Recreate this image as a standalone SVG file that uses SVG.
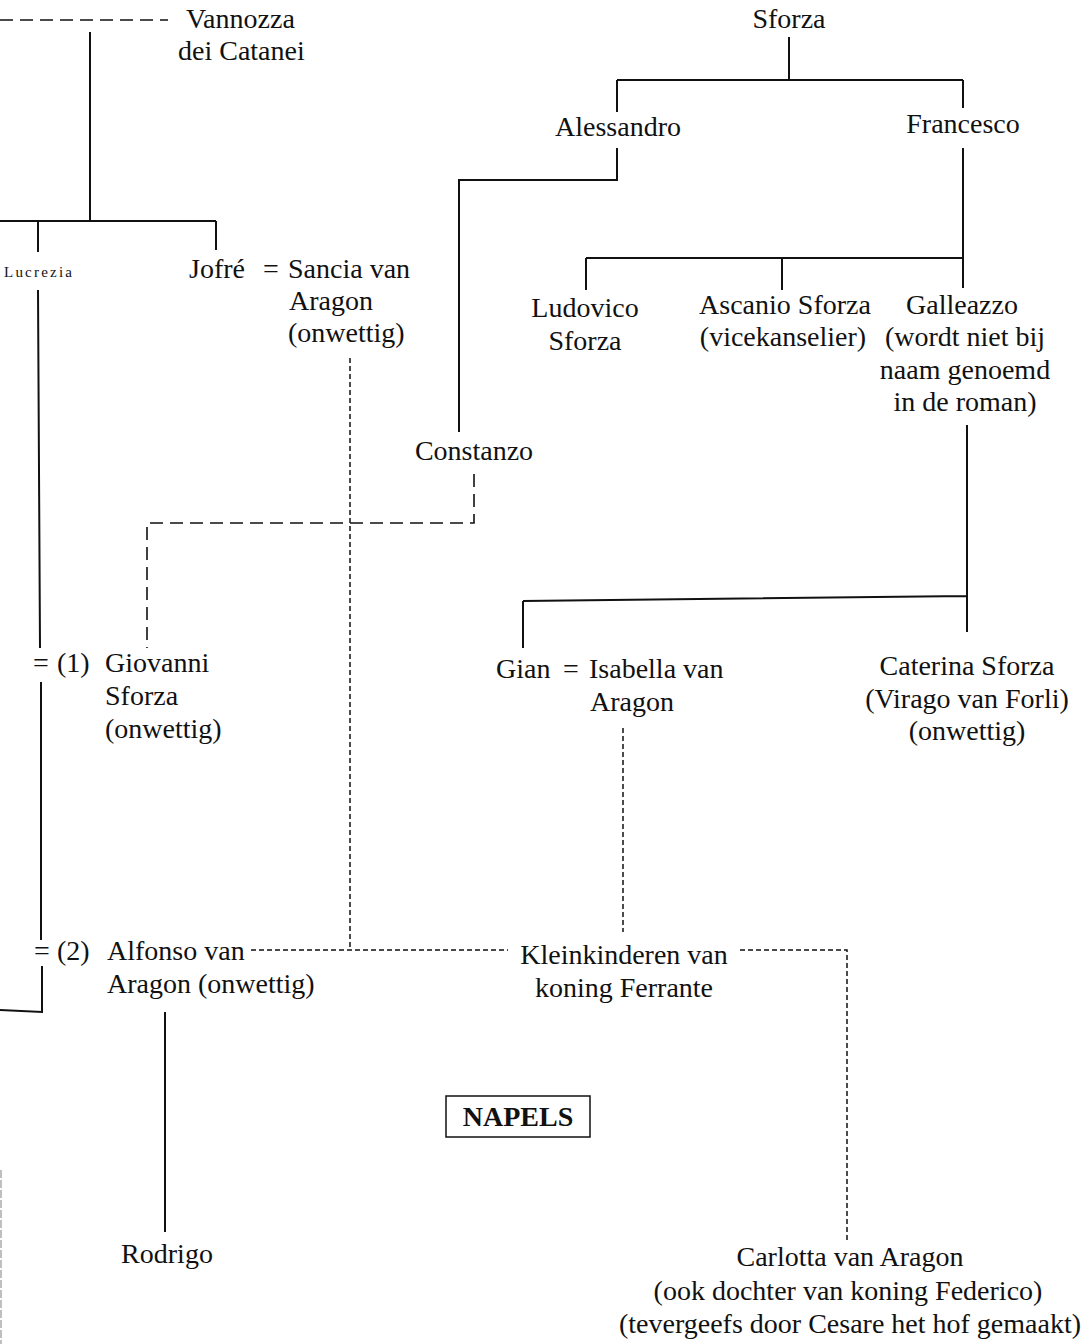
<svg xmlns="http://www.w3.org/2000/svg" width="1087" height="1344" viewBox="0 0 1087 1344">
<style>
text { font-family: "Liberation Serif", "Times New Roman", serif; font-size: 28px; fill: #111; }
.c { text-anchor: middle; }
.small { font-size: 15px; }
.bold { font-weight: bold; }
.solid { stroke: #111; stroke-width: 2; fill: none; }
.dash { stroke: #111; stroke-width: 1.6; fill: none; stroke-dasharray: 13 7; }
.dot { stroke: #111; stroke-width: 1.5; fill: none; stroke-dasharray: 5 3; }
</style>
<rect width="1087" height="1344" fill="#fff"/>
<g id="connectors">
  <path class="dash" d="M0 20 H168"/>
  <path class="solid" d="M90 32 V221 M0 221 H216 M38 221 V252 M216 221 V250"/>
  <path class="solid" d="M38 290 L40 648 M41 682 V940 M42 966 V1012 L0 1010"/>
  <path class="solid" d="M789 37 V80 M617 80 H963 M617 80 V112 M963 80 V108"/>
  <path class="solid" d="M617 148 V180 H459 V432"/>
  <path class="solid" d="M963 148 V288 M586 258 H963 M586 258 V290 M782 258 V290"/>
  <path class="solid" d="M967 425 V632 M523 601 L967 596 M523 601 V648"/>
  <path class="solid" d="M165 1012 V1232"/>
  <path class="dash" d="M474 474 V523 H147 V648"/>
  <path class="dot" d="M350 358 V950 M251 950 H508"/>
  <path class="dot" d="M623 728 V932"/>
  <path class="dot" d="M740 950 H847 V1240"/>
  <path d="M1 1170 V1344" stroke="#aaa" stroke-width="1.5" stroke-dasharray="8 2"/>
</g>
<g id="vannozza"><text x="186" y="28">Vannozza</text><text x="178" y="60">dei Catanei</text></g>
<g id="lucrezia"><text class="small" x="4" y="277" textLength="68" lengthAdjust="spacing">Lucrezia</text></g>
<g id="jofre"><text x="189" y="278">Jofré</text><text x="263" y="278">=</text></g>
<g id="sancia"><text x="288" y="278">Sancia van</text><text x="289" y="310">Aragon</text><text x="288" y="342">(onwettig)</text></g>
<g id="sforza"><text class="c" x="789" y="28">Sforza</text></g>
<g id="alessandro"><text class="c" x="618" y="136">Alessandro</text></g>
<g id="francesco"><text class="c" x="963" y="133">Francesco</text></g>
<g id="ludovico"><text class="c" x="585" y="317">Ludovico</text><text class="c" x="585" y="350">Sforza</text></g>
<g id="ascanio"><text class="c" x="785" y="314">Ascanio Sforza</text><text class="c" x="783" y="346">(vicekanselier)</text></g>
<g id="galleazzo"><text class="c" x="962" y="314">Galleazzo</text><text class="c" x="965" y="346">(wordt niet bij</text><text class="c" x="965" y="379">naam genoemd</text><text class="c" x="965" y="411">in de roman)</text></g>
<g id="constanzo"><text class="c" x="474" y="460">Constanzo</text></g>
<g id="giovanni"><text x="33" y="672">=</text><text x="57" y="672">(1)</text><text x="105" y="672">Giovanni</text><text x="105" y="705">Sforza</text><text x="105" y="738">(onwettig)</text></g>
<g id="gian"><text x="496" y="678">Gian</text><text x="563" y="678">=</text></g>
<g id="isabella"><text x="589" y="678">Isabella van</text><text x="590" y="711">Aragon</text></g>
<g id="caterina"><text class="c" x="967" y="675">Caterina Sforza</text><text class="c" x="967" y="708">(Virago van Forli)</text><text class="c" x="967" y="740">(onwettig)</text></g>
<g id="alfonso"><text x="34" y="960">=</text><text x="57" y="960">(2)</text><text x="107" y="960">Alfonso van</text><text x="107" y="993">Aragon (onwettig)</text></g>
<g id="kleinkinderen"><text class="c" x="624" y="964">Kleinkinderen van</text><text class="c" x="624" y="997">koning Ferrante</text></g>
<g id="rodrigo"><text class="c" x="167" y="1263">Rodrigo</text></g>
<g id="carlotta"><text class="c" x="850" y="1266">Carlotta van Aragon</text><text class="c" x="848" y="1300">(ook dochter van koning Federico)</text><text class="c" x="850" y="1333">(tevergeefs door Cesare het hof gemaakt)</text></g>
<g id="napels"><rect x="446" y="1096" width="144" height="41" fill="none" stroke="#111" stroke-width="1.5"/><text class="c bold" x="518" y="1126">NAPELS</text></g>
</svg>
